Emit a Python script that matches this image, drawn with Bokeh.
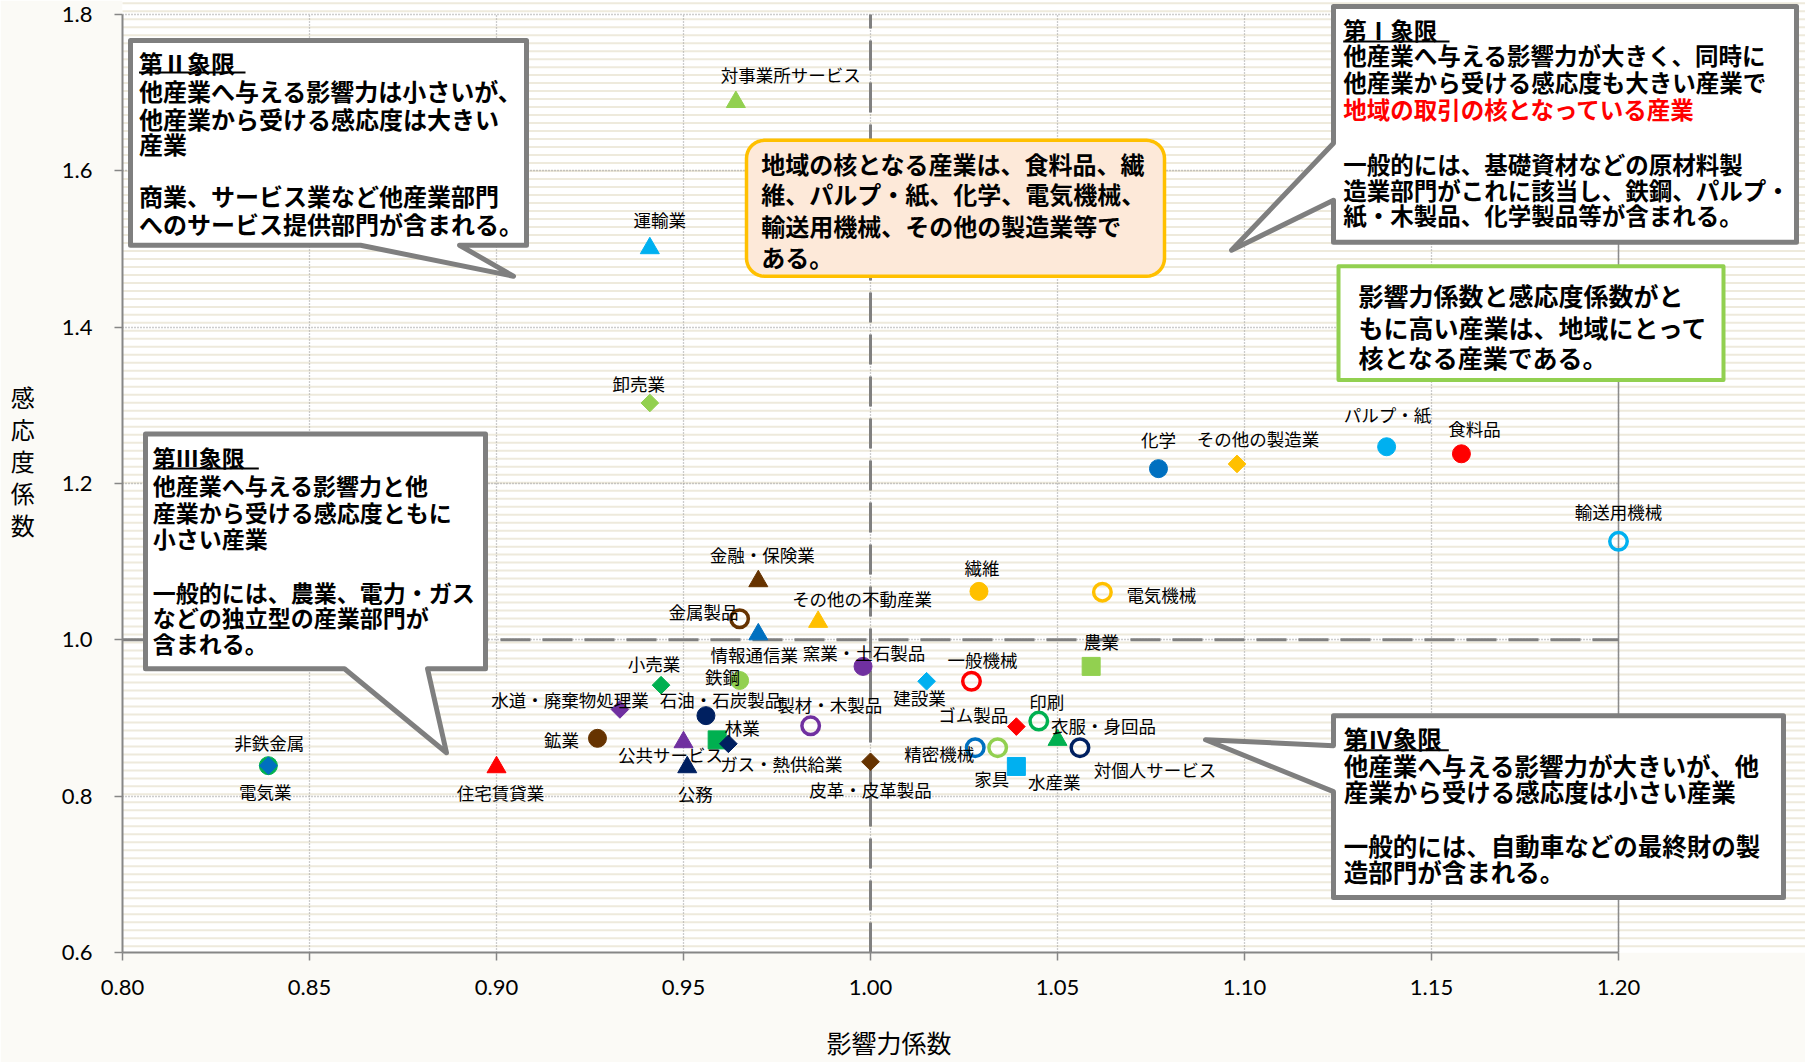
import numpy as np
from bokeh.plotting import figure
from bokeh.models import (Range1d, FixedTicker, NumeralTickFormatter, Label, LabelSet,
                          ColumnDataSource, PolyAnnotation, BoxAnnotation, Whisker)
from bokeh.core.properties import value
from bokeh.embed import file_html
from bokeh.resources import INLINE

# ---------------- data ----------------
industries = ["対事業所サービス", "運輸業", "卸売業", "化学", "その他の製造業", "パルプ・紙", "食料品",
              "輸送用機械", "金融・保険業", "繊維", "電気機械", "その他の不動産業", "金属製品", "情報通信業",
              "窯業・土石製品", "農業", "鉄鋼", "小売業", "建設業", "一般機械", "石油・石炭製品",
              "水道・廃棄物処理業", "製材・木製品", "ゴム製品", "印刷", "鉱業", "林業", "ガス・熱供給業",
              "公共サービス", "公務", "精密機械", "家具", "水産業", "衣服・身回品", "対個人サービス",
              "皮革・皮革製品", "電気業", "非鉄金属", "住宅賃貸業"]
influence = [0.964, 0.941, 0.941, 1.077, 1.098, 1.138, 1.158,
             1.200, 0.970, 1.029, 1.062, 0.986, 0.965, 0.970,
             0.998, 1.059, 0.965, 0.944, 1.015, 1.027, 0.956,
             0.933, 0.984, 1.039, 1.045, 0.927, 0.959, 0.962,
             0.950, 0.951, 1.028, 1.034, 1.039, 1.050, 1.056,
             1.000, 0.839, 0.839, 0.900]
sensitivity = [1.688, 1.501, 1.303, 1.219, 1.225, 1.247, 1.238,
               1.126, 1.075, 1.062, 1.061, 1.023, 1.027, 1.007,
               0.966, 0.966, 0.948, 0.942, 0.947, 0.947, 0.903,
               0.911, 0.890, 0.889, 0.896, 0.874, 0.872, 0.867,
               0.869, 0.837, 0.862, 0.862, 0.838, 0.872, 0.862,
               0.844, 0.839, 0.839, 0.837]
shape = ["tri", "tri", "dia", "cir", "dia", "cir", "cir",
         "ocir", "tri", "cir", "ocir", "tri", "ocir", "tri",
         "cir", "sq", "cir", "dia", "dia", "ocir", "cir",
         "dia", "ocir", "dia", "ocir", "cir", "sq", "dia",
         "tri", "tri", "ocir", "ocir", "sq", "tri", "ocir",
         "dia", "cir", "dia", "tri"]
color = ["#92D050", "#00B0F0", "#92D050", "#0070C0", "#FFC000", "#00B0F0", "#FF0000",
         "#00B0F0", "#663300", "#FFC000", "#FFC000", "#FFC000", "#663300", "#0070C0",
         "#7030A0", "#92D050", "#92D050", "#00B050", "#00B0F0", "#FF0000", "#002060",
         "#7030A0", "#7030A0", "#FF0000", "#00B050", "#663300", "#00B050", "#002060",
         "#7030A0", "#002060", "#0070C0", "#92D050", "#00B0F0", "#00B050", "#002060",
         "#663300", "#00B050", "#0070C0", "#FF0000"]
# label offsets from the marker (screen px, y downward)
label_dx = [55, 10, -11, 0, 21, 1, 13,
            0, 4, 3, 59, 44, -36, -4,
            1, 10, -17, -7, -7, 11, 15,
            -50, 19, -43, 8, -36, 25, 53,
            -13, 8, -36, -6, 38, 46, 75,
            0, -3, 1, 4]
label_dy = [-28, -29, -19, -29, -25, -32, -25,
            -30, -27, -24, 2, -23, -7, 20,
            -14, -25, -4, -22, 16, -22, -16,
            -10, -21, -12, -20, 1, -12, 20,
            12, 26, 6, 31, 15, -14, 22,
            28, 26, -23, 25]

x_ticks = [0.80, 0.85, 0.90, 0.95, 1.00, 1.05, 1.10, 1.15, 1.20]
y_ticks = [0.6, 0.8, 1.0, 1.2, 1.4, 1.6, 1.8]

# ---------------- layout ----------------
W, H = 1805, 1062
PL, PR, PT, PB = 122, 1618, 14, 953          # plot-area pixel box (0.80..1.20, 0.6..1.8)
XMIN, XMAX, YMIN, YMAX = x_ticks[0], x_ticks[-1], y_ticks[0], y_ticks[-1]
JP = "Noto Sans CJK JP"
STRIPE = "#eeeadc"


def px2x(X):
    return XMIN + (X - PL) / (PR - PL) * (XMAX - XMIN)


def px2y(Y):
    return YMIN + (PB - Y) / (PB - PT) * (YMAX - YMIN)


xs_per_px = (XMAX - XMIN) / (PR - PL)
ys_per_px = (YMAX - YMIN) / (PB - PT)

# frame spans from the y axis to the right edge and from the top edge to the x axis
p = figure(width=W, height=H, title=None, toolbar_location=None, output_backend="svg",
           x_range=Range1d(XMIN, px2x(W)), y_range=Range1d(YMIN, px2y(0)),
           min_border_left=PL, min_border_right=0, min_border_top=0, min_border_bottom=H - PB)
p.outline_line_color = None
p.border_fill_color = "#fbfaf6"
p.background_fill_color = "white"

# striped background inside the frame
stripe_y = [px2y(Y) for Y in np.arange(2.7, H + 8, 8.0)]
stripe_src = ColumnDataSource(dict(base=stripe_y, lo=[px2x(-20)] * len(stripe_y),
                                   hi=[px2x(W + 20)] * len(stripe_y)))
p.add_layout(Whisker(source=stripe_src, base="base", lower="lo", upper="hi", dimension="width",
                     line_color=STRIPE, line_width=2, lower_head=None, upper_head=None, level="image"))

# axes
for ax in (p.xaxis[0], p.yaxis[0]):
    ax.axis_line_color = "#868686"
    ax.axis_line_width = 2
    ax.major_tick_line_color = "#868686"
    ax.major_tick_line_width = 1.5
    ax.major_tick_out = 8
    ax.major_tick_in = 0
    ax.minor_tick_line_color = None
    ax.major_label_text_font = "Lato"
    ax.major_label_text_font_size = "22px"
    ax.major_label_text_color = "#000000"
    ax.axis_label_text_font = JP
    ax.axis_label_text_font_style = "normal"
    ax.axis_label_text_color = "#000000"
p.xaxis.bounds = (XMIN, XMAX)
p.yaxis.bounds = (YMIN, YMAX)
p.xaxis.ticker = FixedTicker(ticks=x_ticks)
p.yaxis.ticker = FixedTicker(ticks=y_ticks)
p.xaxis.formatter = NumeralTickFormatter(format="0.00")
p.yaxis.formatter = NumeralTickFormatter(format="0.0")
p.xaxis.major_label_standoff = 19
p.yaxis.major_label_standoff = 22

# x title: ideographic spaces pull the centred title left to sit under the plot area
p.xaxis.axis_label = "影響力係数" + "\u3000" * 6
p.xaxis.axis_label_text_font_size = "25px"
p.xaxis.axis_label_standoff = 26
p.yaxis.axis_label = "感\n応\n度\n係\n数\n "
p.yaxis.axis_label_orientation = "horizontal"
p.yaxis.axis_label_text_font_size = "24px"
p.yaxis.axis_label_text_line_height = 0.91
p.yaxis.axis_label_standoff = 24

p.xgrid.ticker = FixedTicker(ticks=x_ticks)
p.ygrid.ticker = FixedTicker(ticks=y_ticks)
for g, cb in ((p.xgrid[0], (YMIN, YMAX)), (p.ygrid[0], (XMIN, XMAX))):
    g.grid_line_color = "#9a9a9a"
    g.grid_line_dash = "1 2"
    g.grid_line_width = 1.3
    try:
        g.cross_bounds = cb
    except Exception:
        pass

# right plot-area edge (solid) and the two 1.0 reference lines (dashed)
p.segment(x0=[XMAX], y0=[YMIN], x1=[XMAX], y1=[YMAX], line_color="#8c8c8c", line_width=1.5)
p.segment(x0=[1.0], y0=[YMIN], x1=[1.0], y1=[YMAX], line_color="#808080", line_width=3, line_dash="30 12")
p.segment(x0=[XMIN], y0=[1.0], x1=[XMAX], y1=[1.0], line_color="#808080", line_width=3, line_dash="30 12")

# markers
mk = {"cir": "circle", "ocir": "circle", "tri": "triangle", "dia": "square", "sq": "square"}
sz = {"cir": 18, "ocir": 17.5, "tri": 19, "dia": 12.5, "sq": 18}
ang = {"cir": 0, "ocir": 0, "tri": 0, "dia": np.pi / 4, "sq": 0}
src = ColumnDataSource(dict(
    x=influence, y=sensitivity, name=industries,
    marker=[mk[s] for s in shape], size=[sz[s] for s in shape], angle=[ang[s] for s in shape],
    color=color, falpha=[0.0 if s == "ocir" else 1.0 for s in shape],
    lw=[3.5 if s == "ocir" else 1.0 for s in shape],
    lx=[x + dx * xs_per_px for x, dx in zip(influence, label_dx)],
    ly=[y - dy * ys_per_px for y, dy in zip(sensitivity, label_dy)],
))
p.scatter(x="x", y="y", source=src, marker="marker", size="size", angle="angle",
          fill_color="color", fill_alpha="falpha", line_color="color", line_width="lw")
p.add_layout(LabelSet(x="lx", y="ly", text="name", source=src, text_align="center", text_baseline="middle",
                      text_font=value(JP), text_font_size="17.5px", text_color="#000000"))


# callouts
def poly(pts, fill, line, lw):
    p.add_layout(PolyAnnotation(xs=[px2x(a) for a, b in pts], ys=[px2y(b) for a, b in pts],
                                fill_color=fill, fill_alpha=1.0, line_color=line, line_alpha=1.0,
                                line_width=lw, line_join="round"))


def lines(x0, ys, texts, size, colors=None, underline=None):
    for i, (yy, t) in enumerate(zip(ys, texts)):
        c = colors[i] if colors else "#000000"
        p.add_layout(Label(x=px2x(x0), y=px2y(yy), text=t, text_font=JP, text_font_size=size,
                           text_font_style="bold", text_align="left", text_baseline="middle", text_color=c))
    if underline:
        ux0, ux1, uy = underline
        p.add_layout(BoxAnnotation(left=px2x(ux0), right=px2x(ux1), top=px2y(uy - 1), bottom=px2y(uy + 1),
                                   fill_color="#000000", fill_alpha=1.0, line_color=None))


GRAY = "#7f7f7f"
# Quadrant II
poly([(130, 40), (526, 40), (526, 245), (459, 245), (513, 276), (360, 245), (130, 245)], "white", GRAY, 5)
lines(138.5, [62, 90, 118, 143, 195, 223],
      ["第Ⅱ象限", "他産業へ与える影響力は小さいが、", "他産業から受ける感応度は大きい", "産業",
       "商業、サービス業など他産業部門", "へのサービス提供部門が含まれる。"], "24px",
      underline=(138.5, 245, 72))
# Quadrant I
poly([(1333, 6), (1796, 6), (1796, 242), (1333, 242), (1333, 200), (1231, 250), (1333, 143)], "white", GRAY, 5)
lines(1342.7, [30, 55, 81.7, 109, 163.3, 190, 215],
      ["第Ⅰ象限", "他産業へ与える影響力が大きく、同時に", "他産業から受ける感応度も大きい産業で",
       "地域の取引の核となっている産業", "一般的には、基礎資材などの原材料製",
       "造業部門がこれに該当し、鉄鋼、パルプ・", "紙・木製品、化学製品等が含まれる。"], "23.5px",
      colors=["#000000", "#000000", "#000000", "#FF0000", "#000000", "#000000", "#000000"],
      underline=(1342.7, 1449, 41))
# Quadrant III
poly([(145, 434), (485, 434), (485, 669), (427, 669), (446, 753), (344, 669), (145, 669)], "white", GRAY, 5)
lines(152.3, [456.7, 485, 511.7, 538.3, 591.7, 616.7, 643.3],
      ["第Ⅲ象限", "他産業へ与える影響力と他", "産業から受ける感応度ともに", "小さい産業",
       "一般的には、農業、電力・ガス", "などの独立型の産業部門が", "含まれる。"], "23px",
      underline=(152.3, 258.3, 468.5))
# Quadrant IV
poly([(1333, 716), (1783, 716), (1783, 898), (1333, 898), (1333, 792), (1205, 740), (1333, 746)], "white", GRAY, 5)
lines(1343.3, [739, 765.8, 791.7, 845.8, 871.7],
      ["第Ⅳ象限", "他産業へ与える影響力が大きいが、他", "産業から受ける感応度は小さい産業",
       "一般的には、自動車などの最終財の製", "造部門が含まれる。"], "24.5px",
      underline=(1343.3, 1448.3, 750.5))

# orange rounded box
l, t, r, b, rad = 746, 140, 1164, 276, 18
pts = []
for cx, cy, a0 in [(r - rad, t + rad, -90), (r - rad, b - rad, 0), (l + rad, b - rad, 90), (l + rad, t + rad, 180)]:
    for a in np.linspace(a0, a0 + 90, 10):
        pts.append((cx + rad * np.cos(np.radians(a)), cy + rad * np.sin(np.radians(a))))
poly(pts, "#FDE9D9", "#FFC000", 3.5)
lines(760.7, [163.3, 193.3, 225, 256.7],
      ["地域の核となる産業は、食料品、繊", "維、パルプ・紙、化学、電気機械、",
       "輸送用機械、その他の製造業等で", "ある。"], "24px")

# green box
poly([(1338, 266), (1723, 266), (1723, 380), (1338, 380)], "white", "#92D050", 4)
lines(1358, [295, 326.7, 356.7],
      ["影響力係数と感応度係数がと", "もに高い産業は、地域にとって", "核となる産業である。"], "25px")

open("out.html", "w").write(file_html(p, INLINE))
